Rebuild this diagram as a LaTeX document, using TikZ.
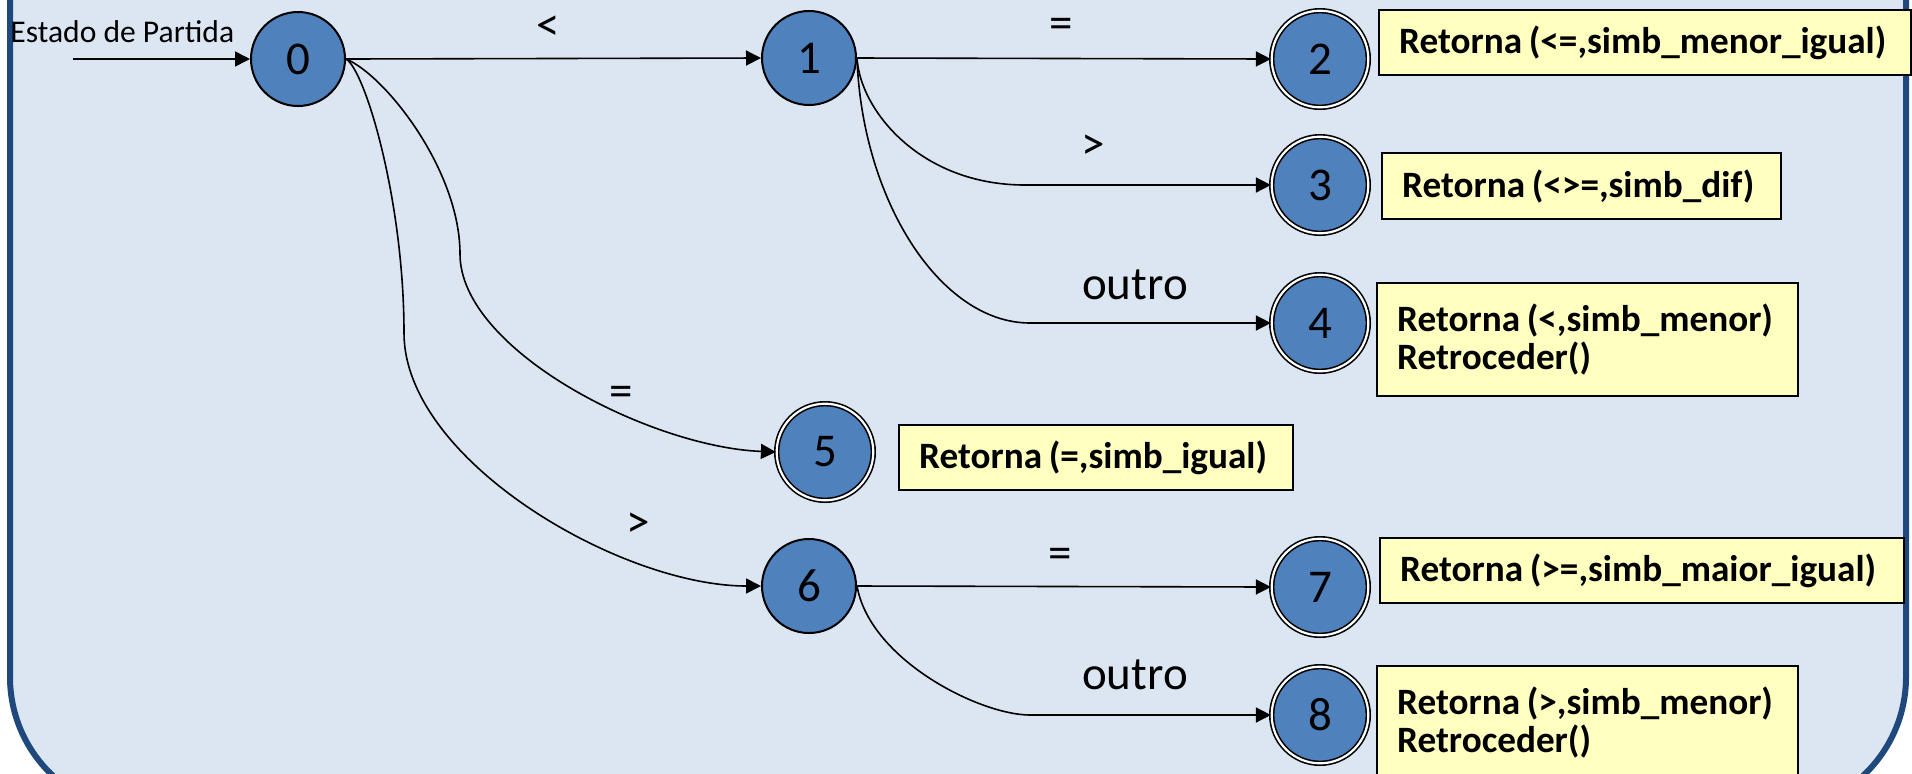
\documentclass[tikz,border=0pt]{standalone}
\usepackage{fontspec}
\setmainfont{Carlito}
\usetikzlibrary{arrows.meta}

\definecolor{panelfill}{HTML}{DCE6F2}
\definecolor{panelline}{HTML}{1F497D}
\definecolor{statefill}{HTML}{4F81BD}
\definecolor{notefill}{HTML}{FFFFC0}

% narrow gap used inside the result notes
\newcommand{\notegap}{\hspace{0.18em}}

\tikzset{
  state/.style={circle, draw=black, line width=1pt, fill=statefill,
    minimum size=47pt, inner sep=0pt, font=\fontsize{23.5}{24}\selectfont},
  accept/.style={circle, draw=black, line width=0.8pt, double=white,
    double distance=1.1pt, fill=statefill, minimum size=48.3pt,
    inner sep=0pt, font=\fontsize{23.5}{24}\selectfont},
  trans/.style={line width=0.8pt, -{Triangle[length=7.5pt,width=7.5pt]}},
  sym/.style={inner sep=0pt, font=\fontsize{23.5}{24}\selectfont},
  note/.style={draw=black, line width=1.2pt, fill=notefill, anchor=north west,
    align=left, inner xsep=10pt, inner ysep=0pt,
    font=\bfseries\fontsize{18.6}{18.75}\selectfont},
}

\begin{document}
\begin{tikzpicture}[x=0.5pt, y=-0.5pt]
  \useasboundingbox (0,0) rectangle (1912,773);

  % panel behind the automaton
  \draw[panelline, line width=3pt, fill=panelfill, rounded corners=67.5pt]
    (10,-200) rectangle (1906,812);

  % states
  \node[state]  (n0) at (298,59)  {0};
  \node[state]  (n1) at (809,58)  {1};
  \node[accept] (n2) at (1320,59) {2};
  \node[accept] (n3) at (1320,185) {3};
  \node[accept] (n4) at (1320,323) {4};
  \node[accept] (n5) at (825,452) {5};
  \node[state]  (n6) at (809,586) {6};
  \node[accept] (n7) at (1320,587) {7};
  \node[accept] (n8) at (1320,715) {8};

  % result notes
  \node[note, minimum width=266pt, minimum height=32.5pt, text width=246pt]
    (r2) at (1378,9) {Retorna\notegap(<=,simb\_menor\_igual)};
  \node[note, minimum width=199.5pt, minimum height=33pt, text width=179.5pt]
    (r3) at (1381,152) {Retorna\notegap(<>=,simb\_dif)};
  \node[note, minimum width=210.5pt, minimum height=56.5pt, text width=190.5pt]
    (r4) at (1376,282) {Retorna\notegap(<,simb\_menor)\\Retroceder()};
  \node[note, minimum width=197pt, minimum height=32.5pt, text width=177pt]
    (r5) at (898,424) {Retorna\notegap(=,simb\_igual)};
  \node[note, minimum width=262pt, minimum height=32.5pt, text width=242pt]
    (r7) at (1379,537) {Retorna\notegap(>=,simb\_maior\_igual)};
  \node[note, minimum width=210.5pt, minimum height=56.5pt, text width=190.5pt]
    (r8) at (1376,665) {Retorna\notegap(>,simb\_menor)\\Retroceder()};

  % start marker
  \node[anchor=west, inner sep=0pt, font=\fontsize{15.8}{16}\selectfont]
    (startlbl) at (10,32) {Estado de Partida};
  \coordinate (entry) at (73,59);
  \draw[trans] (entry) -- (n0.west);

  % transitions
  \draw[trans] (n0.east) -- (n1.west);
  \draw[trans] (n1.east) -- (n2.west);
  \draw[trans] (n1.east) .. controls (860,110) and (920,185) .. (1025,185)
    -- (n3.west);
  \draw[trans] (n1.east) .. controls (862,200) and (940,323) .. (1030,323)
    -- (n4.west);
  \draw[trans] (n0.east) .. controls (385,75) and (460,170) .. (460,254)
    .. controls (460,350) and (650,447) .. (n5.west);
  \draw[trans] (n0.east) .. controls (365,70) and (404,200) .. (404,333)
    .. controls (404,460) and (620,586) .. (n6.west);
  \draw[trans] (n6.east) -- (n7.west);
  \draw[trans] (n6.east) .. controls (870,660) and (980,715) .. (1030,715)
    -- (n8.west);

  % transition symbols
  \node[sym] (s01) at (548,28)  {<};
  \node[sym] (s12) at (1061,28) {=};
  \node[sym] (s13) at (1093,147) {>};
  \node[sym] (s14) at (1135,285) {outro};
  \node[sym] (s05) at (621,396) {=};
  \node[sym] (s06) at (638,525) {>};
  \node[sym] (s67) at (1060,558) {=};
  \node[sym] (s68) at (1135,675) {outro};
\end{tikzpicture}
\end{document}
